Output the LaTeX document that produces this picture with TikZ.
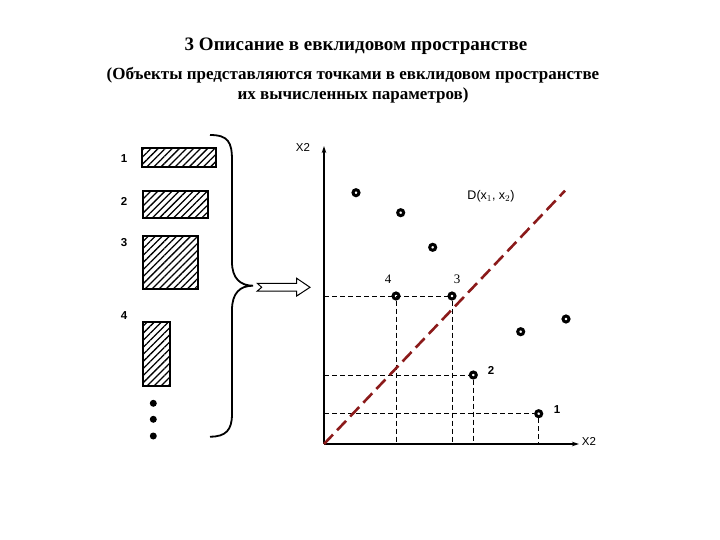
\documentclass[tikz,border=0pt]{standalone}
\usepackage{fontspec}
\setmainfont{Liberation Serif}
\newfontfamily\arialf{Liberation Sans}
\usetikzlibrary{patterns.meta,arrows.meta}
\definecolor{dred}{RGB}{139,26,26}
\begin{document}
\begin{tikzpicture}[x=1pt,y=-1pt,
  ptmark/.style={circle,draw,line width=3pt,minimum size=6pt,inner sep=0pt},
  objbox/.style={draw,line width=2pt,inner sep=0pt,anchor=north west,
    pattern={Lines[angle=45,distance=5pt,line width=1.3pt]}},
  numlab/.style={font=\arialf\bfseries\fontsize{11.5}{12}\selectfont},
  axlab/.style={font=\arialf\fontsize{11.5}{12}\selectfont},
  ptlab/.style={font=\fontsize{13}{14}\selectfont},
  grid/.style={dash pattern=on 5pt off 3pt,line width=0.7pt},
  axisline/.style={line width=2pt,-{Stealth[length=7pt,width=4.5pt]}},
  dotmark/.style={circle,fill,inner sep=0pt,minimum size=7pt}]
\useasboundingbox (0,0) rectangle (720,540);

% title
\node[font=\bfseries\fontsize{19}{22}\selectfont] (title) at (356,46) {3 Описание в евклидовом пространстве};
\node[font=\bfseries\fontsize{17}{19.5}\selectfont,align=center] (sub) at (353,85)
  {(Объекты представляются точками в евклидовом пространстве\\их вычисленных параметров)};

% objects
\node[objbox,minimum width=73.3pt,minimum height=19.4pt] (r1) at (141.7,147.3) {};
\node[objbox,minimum width=65pt,minimum height=27.3pt] (r2) at (141.7,190) {};
\node[objbox,minimum width=55pt,minimum height=53.3pt] (r3) at (141.7,235) {};
\node[objbox,minimum width=27.3pt,minimum height=64.3pt] (r4) at (142,320.7) {};
\node[numlab] (l1) at (124,159) {1};
\node[numlab] (l2) at (124,201) {2};
\node[numlab] (l3) at (124,243) {3};
\node[numlab] (l4) at (124,316) {4};
\node[dotmark] (d1) at (153.3,403.3) {};
\node[dotmark] (d2) at (153.3,419.3) {};
\node[dotmark] (d3) at (153.3,436) {};

% brace
\draw[line width=1.8pt] (210,135) .. controls (228,135) and (232,142) .. (232,160)
  -- (232,262) .. controls (232,278) and (240,285.7) .. (253,285.7)
  .. controls (240,285.7) and (232,293) .. (232,310)
  -- (232,414) .. controls (232,430) and (226,436.7) .. (210,436.7);

% hollow arrow
\draw[line width=1pt] (257.3,283.3) -- (296.7,283.3) -- (296.7,278.3) -- (310,287.3)
  -- (296.7,296) -- (296.7,291) -- (257.3,291) -- (261.7,287.3) -- cycle;

% axes
\coordinate (O) at (324,444);
\coordinate (ytop) at (324,146);
\coordinate (xend) at (579,444);
\draw[axisline] (O) -- (ytop);
\draw[axisline] (O) -- (xend);
\node[axlab] (ylab) at (303,147) {X2};
\node[axlab] (xlab) at (589,441) {X2};

% points
\node[ptmark] (p5) at (356,192.7) {};
\node[ptmark] (p6) at (400.7,212.7) {};
\node[ptmark] (p7) at (432.7,247.3) {};
\node[ptmark] (p4) at (396,296) {};
\node[ptmark] (p3) at (452,296) {};
\node[ptmark] (p8) at (520.7,331.7) {};
\node[ptmark] (p9) at (566,319) {};
\node[ptmark] (p2) at (473.3,375) {};
\node[ptmark] (p1) at (538.7,413.7) {};
\node[ptlab] (t4) at (388,279) {4};
\node[ptlab] (t3) at (457,279) {3};
\node[numlab] (t2) at (491,370) {2};
\node[numlab] (t1) at (557,410) {1};
\node[font=\arialf\fontsize{12.5}{13}\selectfont] (tD) at (491,196) {D(x$_1$, x$_2$)};

% projection lines
\coordinate (h3) at (324,296);
\coordinate (h2) at (324,375);
\coordinate (h1) at (324,413.7);
\coordinate (v4) at (396,444);
\coordinate (v3) at (452,444);
\coordinate (v2) at (473.3,444);
\coordinate (v1) at (538.7,444);
\draw[grid] (h3) -- (p3.west);
\draw[grid] (h2) -- (p2.west);
\draw[grid] (h1) -- (p1.west);
\draw[grid] (p4.south) -- (v4);
\draw[grid] (p3.south) -- (v3);
\draw[grid] (p2.south) -- (v2);
\draw[grid] (p1.south) -- (v1);

% decision line
\coordinate (dend) at (565,190.7);
\draw[dred,line width=2.6pt,dash pattern=on 13pt off 6pt] (O) -- (dend);
\end{tikzpicture}
\end{document}
